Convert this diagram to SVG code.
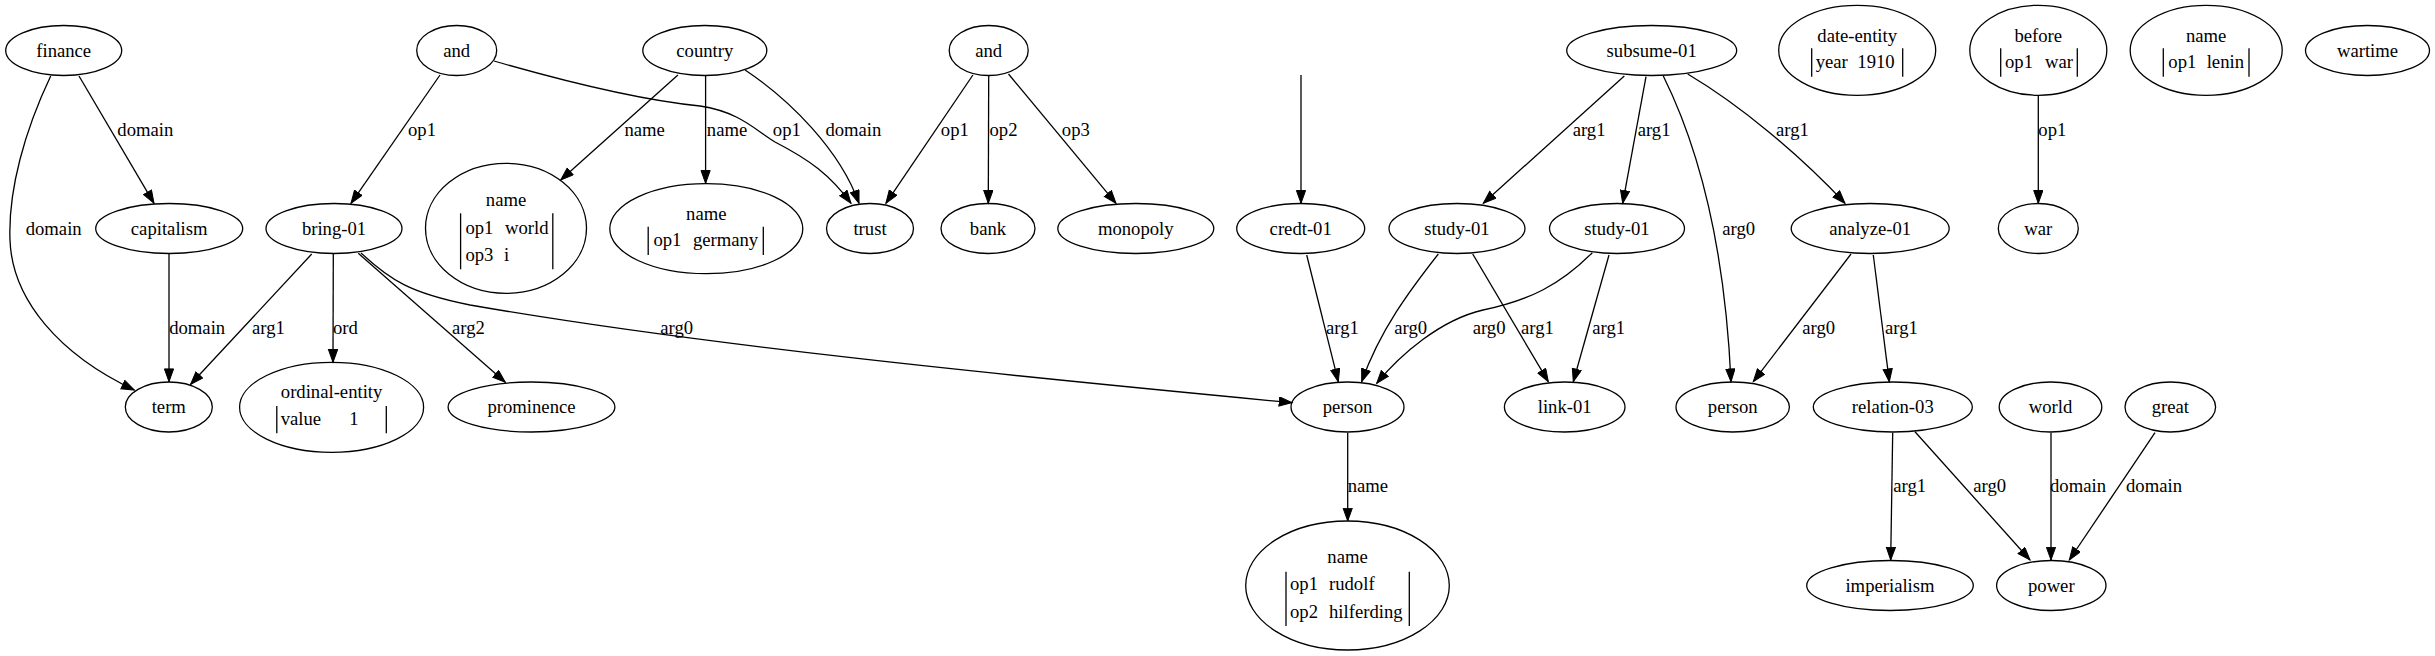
<svg xmlns="http://www.w3.org/2000/svg" width="2435" height="656" viewBox="0 0 2435 656" font-family="'Liberation Serif', 'Times New Roman', serif">
<style>
.n ellipse{fill:none;stroke:#000;stroke-width:1.3}
.n line{stroke:#000;stroke-width:1.3}
text{font-family:'Liberation Serif','Times New Roman','DejaVu Serif',serif;font-size:18.67px;fill:#000}
.c{text-anchor:middle}
.e path{fill:none;stroke:#000;stroke-width:1.3;marker-end:url(#arr)}
</style>
<defs>
<marker id="arr" markerUnits="userSpaceOnUse" markerWidth="15" markerHeight="11" refX="13.3" refY="4.9" orient="auto">
<path d="M0.5,0.3 L13.3,4.9 L0.5,9.5 z" fill="#000" stroke="#000" stroke-width="1"/>
</marker>
</defs>
<rect width="2435" height="656" fill="#fff"/>

<g id="edges" class="e">
<path d="M79,76 L154,203.3"/>
<path d="M50.7,76 C25,130 8,190 10,240 C12,300 60,355 134.4,390"/>
<path d="M169,254 L169,381.7"/>
<path d="M440,75 L351,203.3"/>
<path d="M494,61 C560,80 640,100 700,106 C740,112 755,130 775,142 C810,160 830,175 851,203.3"/>
<path d="M677.9,75 L560.7,180"/>
<path d="M705.6,76 L705.6,183.3"/>
<path d="M745.1,70 C790,100 840,150 859,203.3"/>
<path d="M972.9,75 L885.9,203.3"/>
<path d="M988.7,76 L988.3,203.3"/>
<path d="M1008.5,74 L1116,203.3"/>
<path d="M311.7,254 L190.6,384.3"/>
<path d="M333.3,254 L333,362.3"/>
<path d="M358.3,253.3 L505.3,382.3"/>
<path d="M361,253 C390,280 410,293 470,305 C700,345 1000,375 1292,402.7"/>
<path d="M1301,75 L1301,203.3"/>
<path d="M1306.7,255 L1338.3,381.7"/>
<path d="M1438.3,254 C1410,290 1380,330 1361.7,381.7"/>
<path d="M1472.7,254 L1548.3,381.7"/>
<path d="M1592.3,252.7 C1560,285 1530,300 1483,310 C1440,320 1400,355 1376.7,383.3"/>
<path d="M1609,255 L1573.3,381.7"/>
<path d="M1624.3,76 L1483.3,203.3"/>
<path d="M1646,76.7 L1622.7,203.3"/>
<path d="M1663.3,76 C1700,150 1725,250 1731,381.7"/>
<path d="M1687.7,74 C1740,105 1800,155 1845,203.3"/>
<path d="M1851,254 L1753.3,381.7"/>
<path d="M1873.3,255 L1889.3,381.7"/>
<path d="M2038.3,95.7 L2038.3,203.3"/>
<path d="M1347.7,432.7 L1347.7,521"/>
<path d="M1892.7,432.7 L1890.7,560"/>
<path d="M1915,431.7 L2030,560"/>
<path d="M2051,432.7 L2051,560"/>
<path d="M2155,432.7 C2130,470 2100,515 2069.3,560"/>
<g id="edge-labels">
<text x="117.3" y="135.5">domain</text>
<text x="25.7" y="234.5">domain</text>
<text x="169.2" y="333.5">domain</text>
<text x="408" y="135.5">op1</text>
<text x="772.8" y="135.5">op1</text>
<text x="624.5" y="135.5">name</text>
<text x="706.8" y="135.5">name</text>
<text x="825.4" y="135.5">domain</text>
<text x="940.8" y="135.5">op1</text>
<text x="989.5" y="135.5">op2</text>
<text x="1061.8" y="135.5">op3</text>
<text x="252" y="333.5">arg1</text>
<text x="333" y="333.5">ord</text>
<text x="452" y="333.5">arg2</text>
<text x="660.3" y="333.5">arg0</text>
<text x="1326" y="333.5">arg1</text>
<text x="1394.3" y="333.5">arg0</text>
<text x="1521" y="333.5">arg1</text>
<text x="1472.7" y="333.5">arg0</text>
<text x="1592.3" y="333.5">arg1</text>
<text x="1572.7" y="135.5">arg1</text>
<text x="1637.7" y="135.5">arg1</text>
<text x="1722.3" y="234.5">arg0</text>
<text x="1776" y="135.5">arg1</text>
<text x="1802.3" y="333.5">arg0</text>
<text x="1885" y="333.5">arg1</text>
<text x="2038.3" y="135.5">op1</text>
<text x="1347.7" y="491.5">name</text>
<text x="1893.3" y="491.5">arg1</text>
<text x="1973.3" y="491.5">arg0</text>
<text x="2050" y="491.5">domain</text>
<text x="2126" y="491.5">domain</text>
</g>
</g>

<g id="node-finance" class="n"><ellipse cx="63.7" cy="50.5" rx="58" ry="25"/><text class="c" x="63.7" y="56.5">finance</text></g>
<g id="node-and1" class="n"><ellipse cx="456.7" cy="50.5" rx="40" ry="25"/><text class="c" x="456.7" y="56.5">and</text></g>
<g id="node-country" class="n"><ellipse cx="704.8" cy="50.5" rx="62" ry="25"/><text class="c" x="704.8" y="56.5">country</text></g>
<g id="node-and2" class="n"><ellipse cx="988.7" cy="50.5" rx="39.5" ry="25"/><text class="c" x="988.7" y="56.5">and</text></g>
<g id="node-subsume" class="n"><ellipse cx="1651.7" cy="50.5" rx="85" ry="25"/><text class="c" x="1651.7" y="56.5">subsume-01</text></g>
<g id="node-date-entity" class="n"><ellipse cx="1857.2" cy="50.3" rx="78.5" ry="45"/><text class="c" x="1857.2" y="42">date-entity</text>
<line x1="1811.7" y1="48.3" x2="1811.7" y2="76.7"/><line x1="1902.7" y1="48.3" x2="1902.7" y2="76.7"/>
<text x="1815.7" y="67.7">year</text><text x="1857.3" y="67.7">1910</text></g>
<g id="node-before" class="n"><ellipse cx="2038.3" cy="50.3" rx="68.5" ry="45"/><text class="c" x="2038.3" y="42">before</text>
<line x1="2000.7" y1="48.3" x2="2000.7" y2="76.7"/><line x1="2077.3" y1="48.3" x2="2077.3" y2="76.7"/>
<text x="2005" y="67.7">op1</text><text x="2045" y="67.7">war</text></g>
<g id="node-name-lenin" class="n"><ellipse cx="2206.2" cy="50.3" rx="76" ry="45"/><text class="c" x="2206.2" y="42">name</text>
<line x1="2163.3" y1="48.3" x2="2163.3" y2="76.7"/><line x1="2249" y1="48.3" x2="2249" y2="76.7"/>
<text x="2168.3" y="67.7">op1</text><text x="2206.7" y="67.7">lenin</text></g>
<g id="node-wartime" class="n"><ellipse cx="2367.5" cy="50.5" rx="62" ry="25"/><text class="c" x="2367.5" y="56.5">wartime</text></g>

<g id="node-capitalism" class="n"><ellipse cx="169.2" cy="228.5" rx="73.5" ry="25"/><text class="c" x="169.2" y="234.5">capitalism</text></g>
<g id="node-bring" class="n"><ellipse cx="334" cy="228.5" rx="68" ry="25"/><text class="c" x="334" y="234.5">bring-01</text></g>
<g id="node-name-world" class="n"><ellipse cx="506" cy="228.3" rx="80.5" ry="65"/><text class="c" x="506" y="206">name</text>
<line x1="460.6" y1="213.3" x2="460.6" y2="269.3"/><line x1="552.8" y1="213.3" x2="552.8" y2="269.3"/>
<text x="465.4" y="233.7">op1</text><text x="505" y="233.7">world</text>
<text x="465.4" y="261">op3</text><text x="504" y="261">i</text></g>
<g id="node-name-germany" class="n"><ellipse cx="706.3" cy="228.7" rx="96.5" ry="45"/><text class="c" x="706.3" y="220.3">name</text>
<line x1="648.2" y1="226.7" x2="648.2" y2="255"/><line x1="763.3" y1="226.7" x2="763.3" y2="255"/>
<text x="653.4" y="246">op1</text><text x="692.9" y="246">germany</text></g>
<g id="node-trust" class="n"><ellipse cx="870" cy="228.5" rx="43.5" ry="25"/><text class="c" x="870" y="234.5">trust</text></g>
<g id="node-bank" class="n"><ellipse cx="988" cy="228.5" rx="47" ry="25"/><text class="c" x="988" y="234.5">bank</text></g>
<g id="node-monopoly" class="n"><ellipse cx="1135.8" cy="228.5" rx="78" ry="25"/><text class="c" x="1135.8" y="234.5">monopoly</text></g>
<g id="node-credt" class="n"><ellipse cx="1300.7" cy="228.5" rx="64" ry="25"/><text class="c" x="1300.7" y="234.5">credt-01</text></g>
<g id="node-study-a" class="n"><ellipse cx="1457" cy="228.5" rx="68" ry="25"/><text class="c" x="1457" y="234.5">study-01</text></g>
<g id="node-study-b" class="n"><ellipse cx="1617" cy="228.5" rx="67.5" ry="25"/><text class="c" x="1617" y="234.5">study-01</text></g>
<g id="node-analyze" class="n"><ellipse cx="1870.2" cy="228.5" rx="79" ry="25"/><text class="c" x="1870.2" y="234.5">analyze-01</text></g>
<g id="node-war" class="n"><ellipse cx="2038.3" cy="228.5" rx="40" ry="25"/><text class="c" x="2038.3" y="234.5">war</text></g>

<g id="node-term" class="n"><ellipse cx="168.8" cy="407" rx="43.5" ry="25"/><text class="c" x="168.8" y="413">term</text></g>
<g id="node-ordinal" class="n"><ellipse cx="331.6" cy="407.3" rx="92" ry="45"/><text class="c" x="331.6" y="398.3">ordinal-entity</text>
<line x1="276.8" y1="406" x2="276.8" y2="433.3"/><line x1="386.3" y1="406" x2="386.3" y2="433.3"/>
<text x="280.7" y="425">value</text><text class="c" x="354" y="425">1</text></g>
<g id="node-prominence" class="n"><ellipse cx="531.5" cy="407" rx="83.4" ry="25"/><text class="c" x="531.5" y="413">prominence</text></g>
<g id="node-person" class="n"><ellipse cx="1347.5" cy="407" rx="56.5" ry="25"/><text class="c" x="1347.5" y="413">person</text></g>
<g id="node-link" class="n"><ellipse cx="1564.7" cy="407" rx="60.3" ry="25"/><text class="c" x="1564.7" y="413">link-01</text></g>
<g id="node-person2" class="n"><ellipse cx="1732.7" cy="407" rx="56.7" ry="25"/><text class="c" x="1732.7" y="413">person</text></g>
<g id="node-relation" class="n"><ellipse cx="1892.8" cy="407" rx="79.5" ry="25"/><text class="c" x="1892.8" y="413">relation-03</text></g>
<g id="node-world" class="n"><ellipse cx="2050.5" cy="407" rx="51.3" ry="25"/><text class="c" x="2050.5" y="413">world</text></g>
<g id="node-great" class="n"><ellipse cx="2170.3" cy="407" rx="45.3" ry="25"/><text class="c" x="2170.3" y="413">great</text></g>

<g id="node-name-rudolf" class="n"><ellipse cx="1347.5" cy="585.5" rx="101.8" ry="64.5"/><text class="c" x="1347.5" y="563.3">name</text>
<line x1="1286" y1="571.7" x2="1286" y2="626"/><line x1="1409.3" y1="571.7" x2="1409.3" y2="626"/>
<text x="1290" y="590">op1</text><text x="1329" y="590">rudolf</text>
<text x="1290" y="617.7">op2</text><text x="1329" y="617.7">hilferding</text></g>
<g id="node-imperialism" class="n"><ellipse cx="1890" cy="585.5" rx="83.3" ry="25"/><text class="c" x="1890" y="591.5">imperialism</text></g>
<g id="node-power" class="n"><ellipse cx="2051.3" cy="585.5" rx="54.7" ry="25"/><text class="c" x="2051.3" y="591.5">power</text></g>
</svg>
